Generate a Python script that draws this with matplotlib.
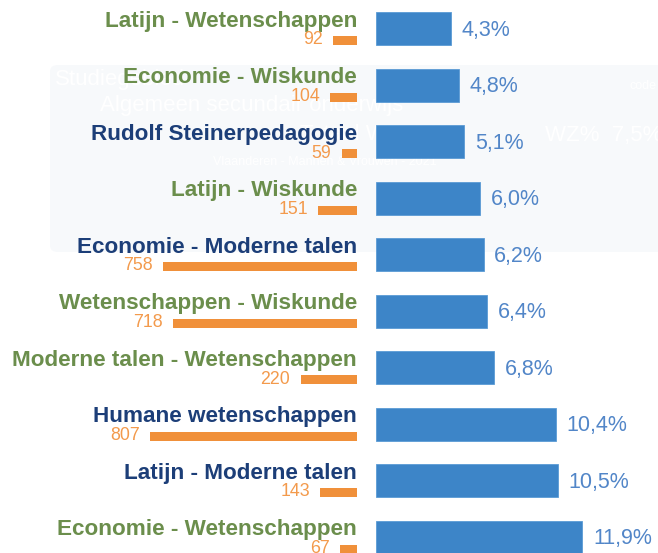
import matplotlib.pyplot as plt
from matplotlib.patches import FancyBboxPatch

# studierichtingen, aantal leerlingen en aandeel
richtingen = [
    "Latijn - Wetenschappen",
    "Economie - Wiskunde",
    "Rudolf Steinerpedagogie",
    "Latijn - Wiskunde",
    "Economie - Moderne talen",
    "Wetenschappen - Wiskunde",
    "Moderne talen - Wetenschappen",
    "Humane wetenschappen",
    "Latijn - Moderne talen",
    "Economie - Wetenschappen",
]
aantallen = [92, 104, 59, 151, 758, 718, 220, 807, 143, 67]
percentages = [4.3, 4.8, 5.1, 6.0, 6.2, 6.4, 6.8, 10.4, 10.5, 11.9]
groep = ["g", "g", "b", "g", "b", "g", "g", "b", "b", "g"]

GROEN = "#6b8e4c"
DONKERBLAUW = "#1c3e78"
ORANJE = "#f0903a"
BLAUW = "#3d85c8"
TEKSTBLAUW = "#5286c8"

plt.rcParams["font.family"] = ["Liberation Sans", "DejaVu Sans"]

W, H = 658, 553
fig = plt.figure(figsize=(W / 100, H / 100), dpi=100)
fig.patch.set_facecolor("white")

# lichte tooltip-kader op de achtergrond
kader = FancyBboxPatch((50 / W, 1 - 252 / H), 640 / W, 187 / H,
                       boxstyle="round,pad=0,rounding_size=0.012",
                       transform=fig.transFigure, facecolor="#f7f9fb",
                       edgecolor="none", zorder=-2)
fig.add_artist(kader)
for tx, ty, s, fs in [(55, 80, "Studiegebied", 16),
                      (100, 105, "Algemeen secundair onderwijs", 16),
                      (300, 135, "Totaal WZ  242", 16),
                      (545, 135, "WZ%  7,5%", 16),
                      (213, 162, "Vlaanderen - Mannen & Vrouwen - 2021", 9),
                      (630, 86, "code", 9)]:
    fig.text(tx / W, 1 - ty / H, s, color="white", fontsize=fs,
             va="center", zorder=-1)

n = len(richtingen)
rij = 56.5
ylim = ((H - 28.5) / rij, -28.5 / rij)
y = list(range(n))

# rechts: percentages
ax_r = fig.add_axes([376 / W, 0, (W - 376) / W, 1])
ax_r.set_facecolor("none")
ax_r.barh(y, percentages, height=33 / rij, color=BLAUW,
          edgecolor="#5b9bd5", linewidth=0.6)
ax_r.set_xlim(0, (W - 376) / 17.35)
ax_r.set_ylim(*ylim)
for yi, p in zip(y, percentages):
    ax_r.annotate(f"{p:.1f}%".replace(".", ","), xy=(p, yi + 0.13),
                  xytext=(7.5, 0), textcoords="offset points",
                  ha="left", va="baseline", fontsize=15.5, color=TEKSTBLAUW,
                  annotation_clip=False)
ax_r.axis("off")

# links: aantallen, naar links lopend
ax_l = fig.add_axes([0, 0, 357 / W, 1])
ax_l.set_facecolor("none")
ax_l.barh([yi + 12 / rij for yi in y], aantallen, height=9 / rij,
          color=ORANJE, align="center")
ax_l.set_xlim(357 / 0.256, 0)
ax_l.set_ylim(*ylim)
for yi, naam, a, g in zip(y, richtingen, aantallen, groep):
    ax_l.text(0, yi - 0.035, naam, ha="right", va="baseline",
              fontsize=16.2, fontweight="bold",
              color=GROEN if g == "g" else DONKERBLAUW)
    ax_l.annotate(str(a), xy=(a, yi + 16 / rij), xytext=(-7.5, 0),
                  textcoords="offset points", ha="right", va="baseline",
                  fontsize=12.8, color="#f39a4c", annotation_clip=False)
ax_l.axis("off")

fig.savefig("out.png", dpi=100)
